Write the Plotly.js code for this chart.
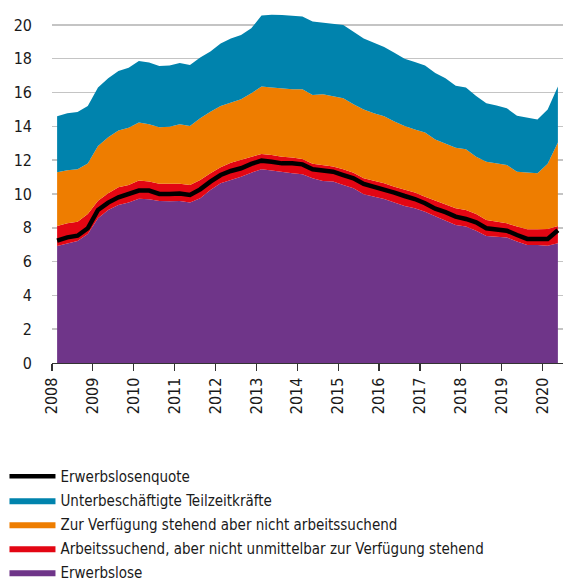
<!DOCTYPE html>
<html>
<head>
<meta charset="utf-8">
<script src="https://cdn.plot.ly/plotly-3.0.1.min.js"></script>
<style>
  html, body { margin: 0; padding: 0; background: #fff; }
  #chart { width: 563px; height: 581px; }
</style>
</head>
<body>
<div id="chart"></div>
<script>
// Quarterly periods, 2008 Q1 – 2020 Q2
const quarters = [
  "2008 Q1","2008 Q2","2008 Q3","2008 Q4",
  "2009 Q1","2009 Q2","2009 Q3","2009 Q4",
  "2010 Q1","2010 Q2","2010 Q3","2010 Q4",
  "2011 Q1","2011 Q2","2011 Q3","2011 Q4",
  "2012 Q1","2012 Q2","2012 Q3","2012 Q4",
  "2013 Q1","2013 Q2","2013 Q3","2013 Q4",
  "2014 Q1","2014 Q2","2014 Q3","2014 Q4",
  "2015 Q1","2015 Q2","2015 Q3","2015 Q4",
  "2016 Q1","2016 Q2","2016 Q3","2016 Q4",
  "2017 Q1","2017 Q2","2017 Q3","2017 Q4",
  "2018 Q1","2018 Q2","2018 Q3","2018 Q4",
  "2019 Q1","2019 Q2","2019 Q3","2019 Q4",
  "2020 Q1","2020 Q2"
];

// Erwerbslose (%)
const erwerbslose = [
  6.92, 7.08, 7.22, 7.63, 8.56, 9.05, 9.35, 9.49, 9.72, 9.69,
  9.59, 9.57, 9.58, 9.49, 9.74, 10.24, 10.63, 10.83, 11.02, 11.26,
  11.46, 11.38, 11.28, 11.22, 11.16, 10.93, 10.77, 10.73, 10.53, 10.34,
  9.98, 9.84, 9.70, 9.49, 9.29, 9.15, 8.95, 8.68, 8.42, 8.17,
  8.07, 7.83, 7.51, 7.47, 7.42, 7.18, 6.98, 6.98, 6.94, 7.08
];

// Arbeitssuchend, aber nicht unmittelbar zur Verfügung stehend (%)
const arbeitssuchend = [
  1.18, 1.18, 1.14, 1.19, 1.04, 0.99, 1.05, 1.04, 1.07, 1.04,
  1.02, 1.04, 1.02, 1.04, 1.09, 0.98, 0.95, 1.02, 0.99, 0.94,
  0.91, 0.92, 0.92, 0.93, 0.91, 0.85, 0.91, 0.89, 0.93, 0.92,
  0.95, 0.95, 0.93, 0.94, 0.95, 0.93, 0.89, 0.94, 0.99, 0.98,
  0.98, 0.99, 0.95, 0.89, 0.84, 0.89, 0.93, 0.93, 0.99, 1.02
];

// Zur Verfügung stehend aber nicht arbeitssuchend (%)
const zurVerfuegung = [
  3.18, 3.14, 3.10, 2.98, 3.24, 3.31, 3.35, 3.39, 3.43, 3.39,
  3.34, 3.37, 3.52, 3.49, 3.65, 3.65, 3.62, 3.55, 3.59, 3.76,
  3.98, 4.00, 4.05, 4.05, 4.13, 4.08, 4.22, 4.14, 4.20, 4.04,
  4.07, 3.98, 3.97, 3.85, 3.78, 3.74, 3.79, 3.60, 3.59, 3.59,
  3.59, 3.38, 3.45, 3.45, 3.46, 3.25, 3.37, 3.31, 3.85, 4.94
];

// Unterbeschäftigte Teilzeitkräfte (%)
const teilzeit = [
  3.32, 3.37, 3.39, 3.40, 3.46, 3.50, 3.53, 3.55, 3.65, 3.65,
  3.62, 3.62, 3.63, 3.61, 3.59, 3.55, 3.70, 3.80, 3.80, 3.84,
  4.20, 4.30, 4.33, 4.35, 4.30, 4.34, 4.24, 4.29, 4.34, 4.30,
  4.20, 4.18, 4.10, 4.07, 3.98, 3.98, 3.97, 3.93, 3.85, 3.66,
  3.66, 3.60, 3.46, 3.42, 3.35, 3.31, 3.22, 3.18, 3.22, 3.31
];

// Erwerbslosenquote (%)
const quote = [
  7.24, 7.43, 7.53, 7.97, 9.05, 9.49, 9.80, 9.98, 10.20, 10.20,
  10.00, 10.00, 10.02, 9.94, 10.27, 10.73, 11.12, 11.36, 11.52, 11.78,
  11.97, 11.91, 11.81, 11.81, 11.75, 11.46, 11.38, 11.32, 11.12, 10.93,
  10.59, 10.43, 10.27, 10.08, 9.88, 9.70, 9.45, 9.13, 8.92, 8.66,
  8.52, 8.32, 7.97, 7.87, 7.83, 7.57, 7.34, 7.34, 7.34, 7.85
];

const yearTicks = [2008, 2009, 2010, 2011, 2012, 2013, 2014, 2015, 2016, 2017, 2018, 2019, 2020];
const yTicks = [0, 2, 4, 6, 8, 10, 12, 14, 16, 18, 20];

// quarter label -> position on a continuous year axis (middle of the quarter)
const xPos = quarters.map(q => {
  const parts = q.split(" Q");
  return Number(parts[0]) + (Number(parts[1]) - 0.5) / 4;
});

const FONT = '"DejaVu Sans Condensed", "Liberation Sans Narrow", sans-serif';

function area(name, values, color, rank) {
  return {
    type: "scatter",
    mode: "lines",
    x: xPos,
    y: values,
    name: name,
    legendgroup: name,
    legendrank: rank,
    stackgroup: "one",
    line: { width: 0, color: color },
    fillcolor: color,
    hoverinfo: "skip"
  };
}

const traces = [
  area("Erwerbslose", erwerbslose, "#6f3589", 5),
  area("Arbeitssuchend, aber nicht unmittelbar zur Verfügung stehend", arbeitssuchend, "#e30613", 4),
  area("Zur Verfügung stehend aber nicht arbeitssuchend", zurVerfuegung, "#ee7d00", 3),
  area("Unterbeschäftigte Teilzeitkräfte", teilzeit, "#0083ad", 2),
  {
    type: "scatter",
    mode: "lines",
    x: xPos,
    y: quote,
    name: "Erwerbslosenquote",
    legendgroup: "Erwerbslosenquote",
    legendrank: 1,
    line: { color: "#000000", width: 4.5 },
    hoverinfo: "skip"
  }
];

const layout = {
  width: 563,
  height: 581,
  margin: { l: 52, r: 0, t: 8, b: 218, autoexpand: false },
  paper_bgcolor: "#ffffff",
  plot_bgcolor: "#ffffff",
  font: { family: FONT, size: 15, color: "#1a1a1a" },
  showlegend: true,
  legend: {
    traceorder: "grouped",
    orientation: "v",
    x: -0.093,
    xanchor: "left",
    y: -0.2735,
    yanchor: "top",
    itemwidth: 46,
    tracegroupgap: 1.5,
    font: { family: FONT, size: 15, color: "#1a1a1a" },
    bgcolor: "rgba(0,0,0,0)",
    borderwidth: 0,
    itemclick: false,
    itemdoubleclick: false
  },
  xaxis: {
    type: "linear",
    range: [2008, 2020.5],
    tickmode: "array",
    tickvals: yearTicks,
    ticktext: yearTicks.map(String),
    tickangle: -90,
    ticks: "outside",
    ticklen: 7,
    tickwidth: 1.2,
    tickcolor: "#333333",
    showline: true,
    linecolor: "#333333",
    linewidth: 1.2,
    showgrid: false,
    zeroline: false,
    tickfont: { family: FONT, size: 16, color: "#1a1a1a" },
    fixedrange: true
  },
  yaxis: {
    range: [0, 21],
    tickmode: "array",
    tickvals: yTicks,
    ticktext: yTicks.map(String),
    showgrid: true,
    gridcolor: "#c4c4c4",
    gridwidth: 1.5,
    zeroline: false,
    showline: false,
    ticks: "",
    ticklabelstandoff: 19,
    tickfont: { family: FONT, size: 16, color: "#1a1a1a" },
    fixedrange: true
  }
};

Plotly.newPlot("chart", traces, layout, { staticPlot: true, displayModeBar: false });
</script>
</body>
</html>
